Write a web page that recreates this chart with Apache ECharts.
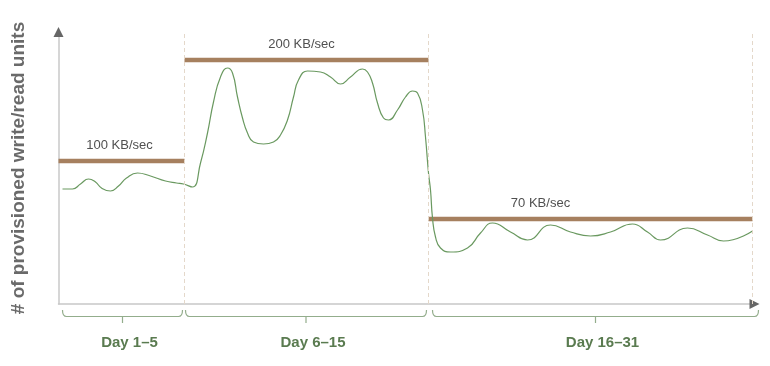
<!DOCTYPE html>
<html>
<head>
<meta charset="utf-8">
<script src="https://cdn.jsdelivr.net/npm/echarts@6/dist/echarts.min.js"></script>
<style>html,body{margin:0;padding:0;background:#fff}#c{width:770px;height:366px}</style>
</head>
<body>
<div id="c"></div>
<script>
// ---- data (x: time units along the month, y: provisioned units) ----
const usageCurve = [
  [4,115],[14,115],[22,120],[30,125],[37,122],[43,116],[52,113],[60,118],[68,126],[79,131],
  [92,128],[107,123],[118,121],[125,120],[134,117],[142,141],[149,171],[155,202],[162,227],
  [169,236],[174,231],[179,207],[184,186],[189,171],[195,162],[205,160],[215,162],[222,169],
  [229,184],[235,207],[240,224],[249,233],[262,232],[272,227],[282,220],[292,227],[304,235],
  [309,232],[314,221],[319,201],[325,186],[330,184],[339,194],[347,207],[354,213],[359,211],
  [364,194],[367,167],[370,131],[372,114],[374,86],[377,67],[382,56],[392,52],[409,56],
  [422,71],[434,81],[452,72],[469,64],[492,79],[512,72],[532,68],[552,72],[574,80],[589,72],
  [602,64],[629,76],[649,69],[665,63],[694,73]
];
const tierNames = ['100 KB/sec', '200 KB/sec', '70 KB/sec'];
const tierLevel = [143, 244, 85];
const tierStart = [0, 126, 370];
const tierEnd = [126, 370, 694];
const dividers = [126, 370, 694];
const periodNames = ['Day 1\u20135', 'Day 6\u201315', 'Day 16\u201331'];
const periodStart = [4, 127, 374];
const periodEnd = [124, 368, 700];
const yTitle = '# of provisioned write/read units';

// ---- chart ----
const chart = echarts.init(document.getElementById('c'));
const FONT = '"Liberation Sans", Arial, Helvetica, sans-serif';
const labelShiftX = [-2, -5, -50];

const tierSeries = tierNames.map((name, i) => ({
  type: 'line',
  name: name,
  data: [[tierStart[i], tierLevel[i]], [tierEnd[i], tierLevel[i]]],
  symbol: 'none',
  silent: true,
  z: 3,
  lineStyle: { color: '#a6805f', width: 4.5, cap: 'butt' },
  markPoint: {
    silent: true,
    symbol: 'circle', symbolSize: 0,
    data: [{ coord: [(tierStart[i] + tierEnd[i]) / 2 + labelShiftX[i], tierLevel[i]] }],
    label: {
      show: true, formatter: name, position: 'top', distance: 9,
      color: '#505050', fontSize: 13, fontFamily: FONT
    }
  }
}));

const option = {
  animation: false,
  grid: { left: 58.5, right: 15.5, top: 32, bottom: 62, containLabel: false },
  xAxis: [
    { type: 'value', min: 0, max: 696, axisLine: { lineStyle: { color: '#c8c8c8', width: 1.5 } },
      axisTick: { show: false }, axisLabel: { show: false }, splitLine: { show: false } },
    { type: 'value', min: 0, max: 696, position: 'bottom',
      axisLine: { symbol: ['none', 'triangle'], symbolSize: [10, 10], lineStyle: { color: '#666666', width: 0 } },
      axisTick: { show: false }, axisLabel: { show: false }, splitLine: { show: false } }
  ],
  yAxis: [
    { type: 'value', min: 0, max: 272,
      name: yTitle, nameLocation: 'middle', nameRotate: 90, nameGap: 30,
      nameTextStyle: { color: '#6a6a6a', fontSize: 19, fontWeight: 'bold', fontFamily: FONT, padding: [0, 0, 0, 0] },
      axisLine: { lineStyle: { color: '#c8c8c8', width: 1.5 } },
      axisTick: { show: false }, axisLabel: { show: false }, splitLine: { show: false } },
    { type: 'value', min: 0, max: 272, position: 'left',
      axisLine: { symbol: ['none', 'triangle'], symbolSize: [10, 10], lineStyle: { color: '#666666', width: 0 } },
      axisTick: { show: false }, axisLabel: { show: false }, splitLine: { show: false } }
  ],
  series: [
    {
      type: 'line',
      name: 'usage',
      data: usageCurve,
      smooth: 0.5,
      symbol: 'none',
      silent: true,
      z: 4,
      lineStyle: { color: '#6a9960', width: 1.2 },
      markLine: {
        silent: true, symbol: 'none',
        label: { show: false },
        lineStyle: { color: '#e4d8ca', type: [4, 3], width: 1 },
        data: dividers.map(v => ({ xAxis: v }))
      }
    },
    ...tierSeries,
    {
      type: 'custom',
      name: 'periods',
      silent: true,
      clip: false,
      data: periodNames.map((p, i) => [periodStart[i], periodEnd[i], i]),
      renderItem: function (params, api) {
        const a = api.coord([api.value(0), 0]);
        const b = api.coord([api.value(1), 0]);
        const x0 = a[0], x1 = b[0], y0 = a[1];
        const mid = (x0 + x1) / 2;
        const yt = y0 + 6, yh = y0 + 12.5, yb = y0 + 19;
        const d = 'M' + x0 + ' ' + yt + ' Q' + x0 + ' ' + yh + ' ' + (x0 + 4) + ' ' + yh +
          ' L' + (x1 - 4) + ' ' + yh + ' Q' + x1 + ' ' + yh + ' ' + x1 + ' ' + yt +
          ' M' + mid + ' ' + yh + ' L' + mid + ' ' + yb;
        return {
          type: 'group',
          children: [
            { type: 'path', shape: { pathData: d },
              style: { stroke: '#93ad8c', lineWidth: 1.2, fill: null } },
            { type: 'text',
              style: { text: periodNames[api.value(2)], x: mid + 7, y: y0 + 39,
                       align: 'center', verticalAlign: 'middle',
                       font: 'bold 15px ' + FONT, fill: '#5a7b50' } }
          ]
        };
      }
    }
  ]
};
chart.setOption(option);
</script>
</body>
</html>
